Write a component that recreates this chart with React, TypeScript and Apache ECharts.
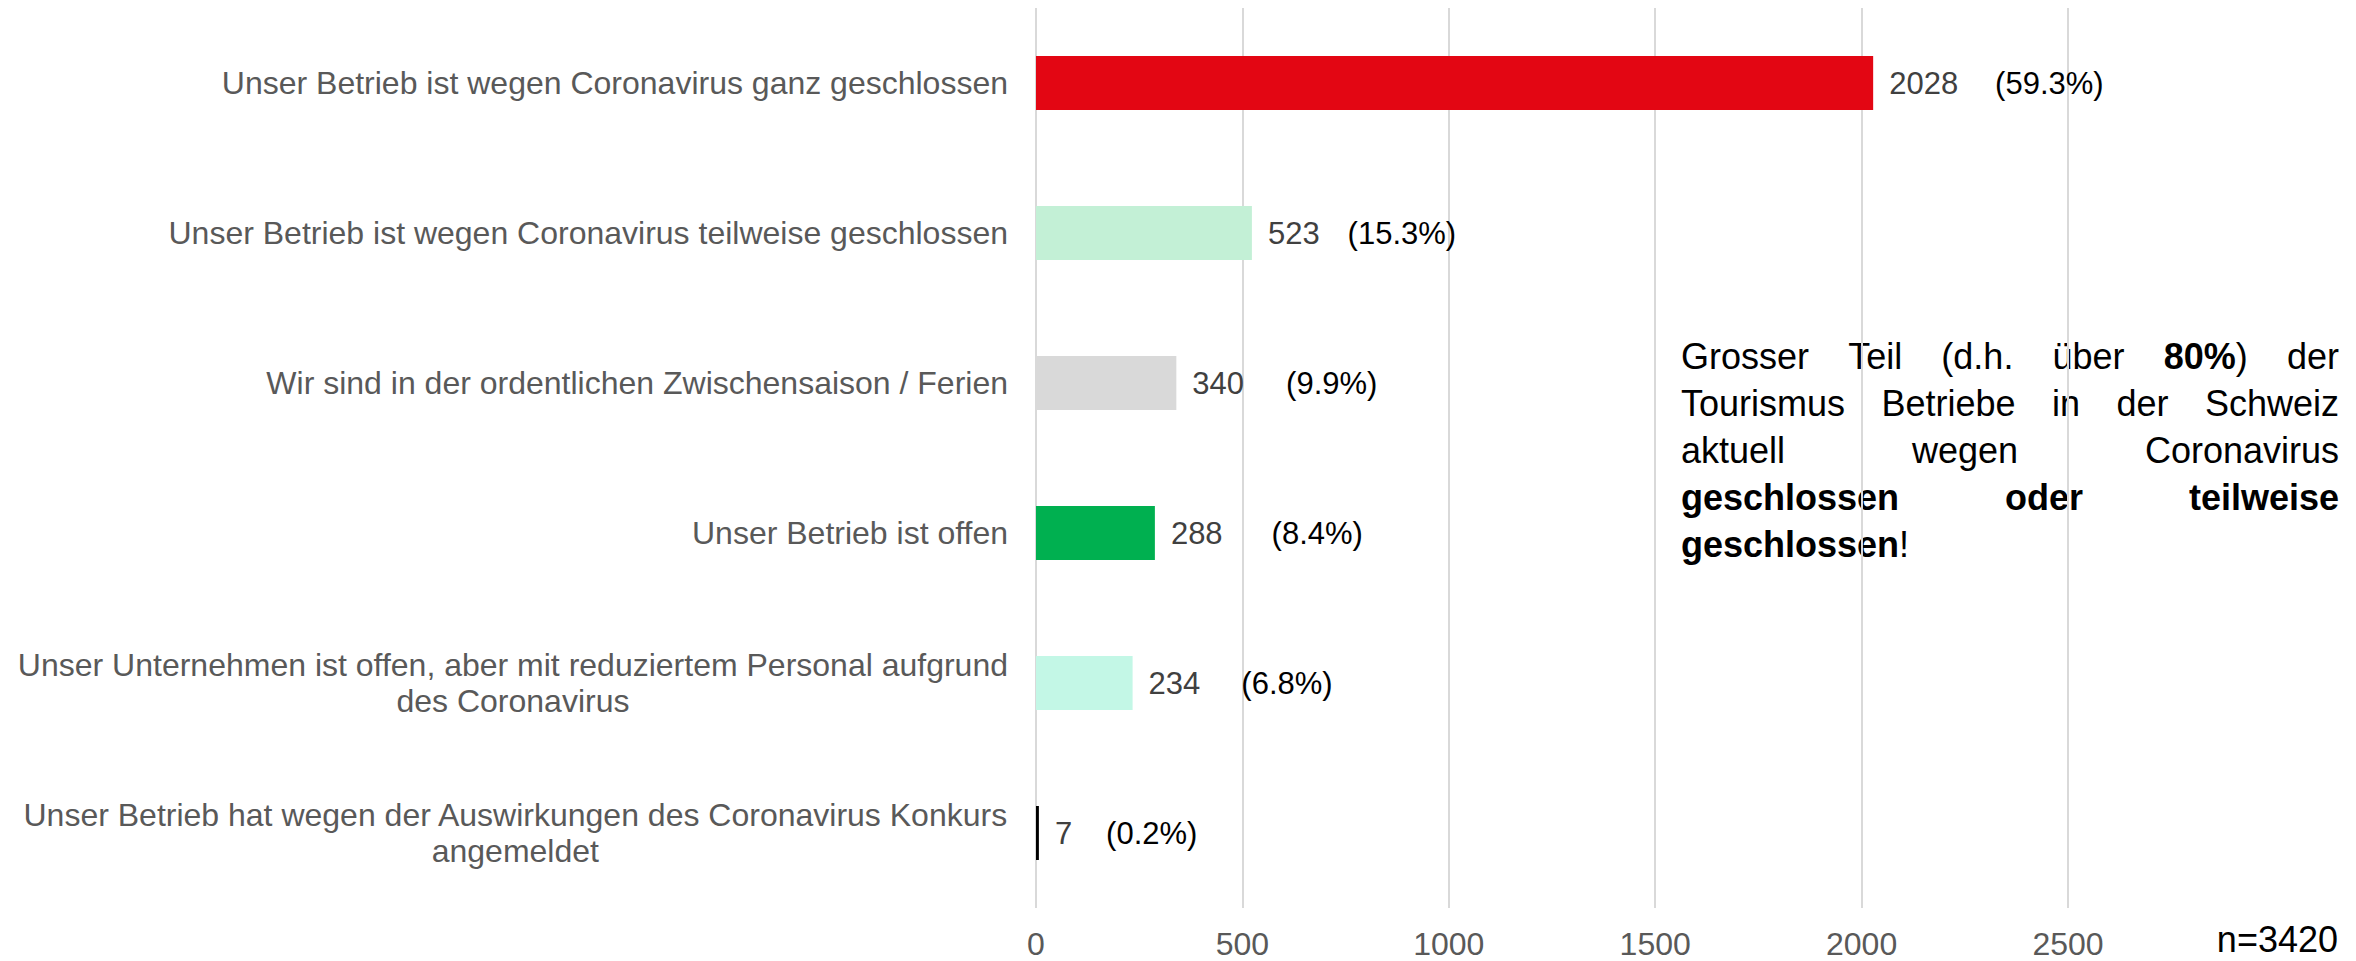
import React, { useEffect, useRef } from "react";
import * as echarts from "echarts";

// ---------- data ----------
const categories = [
  "Unser Betrieb ist wegen Coronavirus ganz geschlossen",
  "Unser Betrieb ist wegen Coronavirus teilweise geschlossen",
  "Wir sind in der ordentlichen Zwischensaison / Ferien",
  "Unser Betrieb ist offen",
  "Unser Unternehmen ist offen, aber mit reduziertem Personal aufgrund\ndes Coronavirus",
  "Unser Betrieb hat wegen der Auswirkungen des Coronavirus Konkurs\nangemeldet",
];
const counts = [2028, 523, 340, 288, 234, 7];
const shares = ["(59.3%)", "(15.3%)", "(9.9%)", "(8.4%)", "(6.8%)", "(0.2%)"];
const axisMax = 2500;
const axisStep = 500;
const sampleNote = "n=3420";
const calloutLines = [
  "Grosser Teil (d.h. über **80%**) der",
  "Tourismus Betriebe in der Schweiz",
  "aktuell wegen Coronavirus",
  "**geschlossen** **oder** **teilweise**",
  "**geschlossen**!",
];

// ---------- styles ----------
const barColors = ["#E30613", "#C3F0D6", "#D9D9D9", "#00B050", "#C3F7E6", "#000000"];
const shareGaps = [37, 28, 42, 49, 41, 34];
const FONT = "'Liberation Sans', Arial, Helvetica, sans-serif";

type Seg = { text: string; bold: boolean };

function parseLine(line: string): Seg[][] {
  const words = line.split(" ").filter((w) => w.length > 0);
  let bold = false;
  const out: Seg[][] = [];
  for (const w of words) {
    const parts = w.split("**");
    const segs: Seg[] = [];
    parts.forEach((p, i) => {
      if (i > 0) bold = !bold;
      if (p.length) segs.push({ text: p, bold });
    });
    out.push(segs);
  }
  return out;
}

function buildCallout(left: number, right: number, top: number, lineGap: number, size: number) {
  const canvas = document.createElement("canvas");
  const ctx = canvas.getContext("2d")!;
  const measure = (s: Seg) => {
    ctx.font = `${s.bold ? "bold " : ""}${size}px ${FONT}`;
    return ctx.measureText(s.text).width;
  };
  const elements: any[] = [];
  calloutLines.forEach((line, li) => {
    const words = parseLine(line);
    const widths = words.map((w) => w.reduce((a, s) => a + measure(s), 0));
    const total = widths.reduce((a, b) => a + b, 0);
    const isLast = li === calloutLines.length - 1;
    const spaceW = measure({ text: " ", bold: false });
    const gap = isLast || words.length < 2 ? spaceW : (right - left - total) / (words.length - 1);
    let x = left;
    const y = top + li * lineGap;
    words.forEach((w, wi) => {
      let sx = x;
      w.forEach((s) => {
        elements.push({
          type: "text",
          x: sx,
          y,
          silent: true,
          style: {
            text: s.text,
            fontSize: size,
            fontWeight: s.bold ? "bold" : "normal",
            fontFamily: FONT,
            fill: "#000000",
            align: "left",
            verticalAlign: "middle",
          },
        });
        sx += measure(s);
      });
      x += widths[wi] + gap;
    });
  });
  return elements;
}

export default function App() {
  const ref = useRef<HTMLDivElement>(null);

  useEffect(() => {
    if (!ref.current) return;
    const chart = echarts.init(ref.current, undefined, { renderer: "svg" });

    const rich: Record<string, any> = {
      v: { fontSize: 31, color: "#404040", fontFamily: FONT },
      p: { fontSize: 31, color: "#000000", fontFamily: FONT },
    };
    shareGaps.forEach((g, i) => {
      rich["g" + i] = { width: g };
    });

    const option: echarts.EChartsOption = {
      animation: false,
      backgroundColor: "#ffffff",
      grid: { left: 1036, right: 2356 - 2068, top: 8, bottom: 53, containLabel: false },
      xAxis: {
        type: "value",
        min: 0,
        max: axisMax,
        interval: axisStep,
        axisLine: { show: false },
        axisTick: { show: false },
        axisLabel: {
          color: "#595959",
          fontSize: 32,
          fontFamily: FONT,
          margin: 20,
          formatter: (v: number) => String(v),
        },
        splitLine: { show: true, lineStyle: { color: "#D9D9D9", width: 2 } },
      },
      yAxis: {
        type: "category",
        inverse: true,
        data: categories,
        axisLine: { show: false },
        axisTick: { show: false },
        splitLine: { show: false },
        axisLabel: {
          margin: 28,
          align: "right",
          formatter: (val: string) =>
            val
              .split("\n")
              .map((l) => `{c|${l}}`)
              .join("\n"),
          rich: {
            c: { fontSize: 32, color: "#595959", fontFamily: FONT, lineHeight: 36, align: "center" },
          },
        },
      },
      series: [
        {
          type: "bar",
          barWidth: 54,
          data: counts.map((v, i) => ({ value: v, itemStyle: { color: barColors[i] } })),
          label: {
            show: true,
            position: "right",
            distance: 16,
            formatter: (p: any) => `{v|${p.value}}{g${p.dataIndex}|}{p|${shares[p.dataIndex]}}`,
            rich,
          },
        },
      ],
      graphic: [
        ...buildCallout(1681, 2339, 356, 47, 36),
        {
          type: "text",
          x: 2338,
          y: 939,
          silent: true,
          style: {
            text: sampleNote,
            fontSize: 36,
            fontFamily: FONT,
            fill: "#000000",
            align: "right",
            verticalAlign: "middle",
          },
        },
      ],
    };

    chart.setOption(option);
    return () => chart.dispose();
  }, []);

  return (
    <div
      ref={ref}
      style={{ position: "absolute", left: 0, top: 0, width: 2356, height: 961, background: "#fff" }}
    />
  );
}
